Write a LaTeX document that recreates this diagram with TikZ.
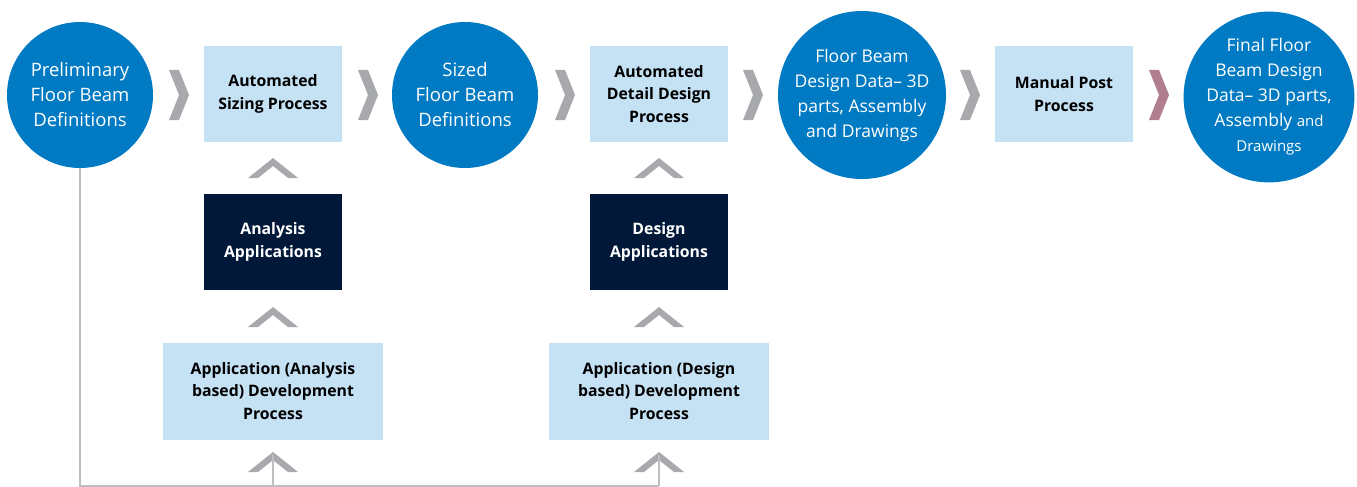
\documentclass[tikz,border=0pt]{standalone}
\usepackage{fontspec}
\setmainfont{Open Sans}
\usetikzlibrary{positioning}

\definecolor{beamblue}{RGB}{0,122,194}
\definecolor{paleblue}{RGB}{197,225,244}
\definecolor{appnavy}{RGB}{1,24,57}
\definecolor{chevgray}{RGB}{167,169,172}
\definecolor{chevmauve}{RGB}{176,126,142}
\definecolor{linegray}{RGB}{190,190,192}

\tikzset{
  stage/.style={circle,fill=beamblue,text=white,inner sep=0pt,minimum size=146pt,
    align=center,font=\fontsize{18.5}{25}\selectfont},
  procbox/.style={fill=paleblue,inner sep=0pt,minimum width=138pt,minimum height=96pt,
    align=center,font=\bfseries\fontsize{15.8}{22.5}\selectfont},
  appbox/.style={procbox,fill=appnavy,text=white},
  devbox/.style={procbox,minimum width=220pt,minimum height=97pt},
  feed/.style={draw=linegray,line width=1.3pt},
  pics/chevright/.style={code={
      \fill (-10,-25) -- (0,-25) -- (10,0) -- (0,25) -- (-10,25) -- (0,0) -- cycle;}},
  pics/chevup/.style={code={
      \fill (-25,10) -- (0,-10) -- (25,10) -- (15,10) -- (0,-2) -- (-15,10) -- cycle;}},
}

\begin{document}
\begin{tikzpicture}[x=1pt,y=-1pt]
  \useasboundingbox (0,0) rectangle (1357,487);

  % top row
  \node[stage] (prelim) at (80,95) {Preliminary\\Floor Beam\\Definitions};
  \node[procbox] (sizing) at (273,94) {Automated\\Sizing Process};
  \node[stage] (sized) at (465,95) {Sized\\Floor Beam\\Definitions};
  \node[procbox] (detail) at (659,94) {Automated\\Detail Design\\Process};
  \node[stage,minimum size=168pt,font=\fontsize{17.5}{25}\selectfont] (designdata) at (862,95)
    {Floor Beam\\Design Data-- 3D\\parts, Assembly\\and Drawings};
  \node[procbox] (manual) at (1064,94) {Manual Post\\Process};
  \node[stage,minimum size=170pt,font=\fontsize{17.5}{25}\selectfont] (final) at (1269,97)
    {Final Floor\\Beam Design\\Data-- 3D parts,\\Assembly {\fontsize{15}{25}\selectfont and}\\{\fontsize{15}{22}\selectfont Drawings}};

  % applications
  \node[appbox] (analysis) at (273,242) {Analysis\\Applications};
  \node[appbox] (design) at (659,242) {Design\\Applications};
  \node[devbox] (analysisdev) at (273,391) {Application (Analysis\\based) Development\\Process};
  \node[devbox] (designdev) at (659,391) {Application (Design\\based) Development\\Process};

  % chevrons
  \foreach \cx in {179,368,565,753,970}
    \pic[chevgray] at (\cx,95) {chevright};
  \pic[chevmauve] at (1159,95) {chevright};
  \foreach \cx in {273,659}
    \foreach \cy in {168,317,462}
      \pic[chevgray] at (\cx,\cy) {chevup};

  % feedback line
  \coordinate (corner) at (prelim.south |- 0,486);
  \coordinate (foot1) at (analysisdev.south |- corner);
  \coordinate (foot2) at (designdev.south |- corner);
  \draw[feed] (prelim.south) -- (corner) -- (foot2);
  \draw[feed] (foot1) -- ++(0,-31);
  \draw[feed] (foot2) -- ++(0,-31);
\end{tikzpicture}
\end{document}
